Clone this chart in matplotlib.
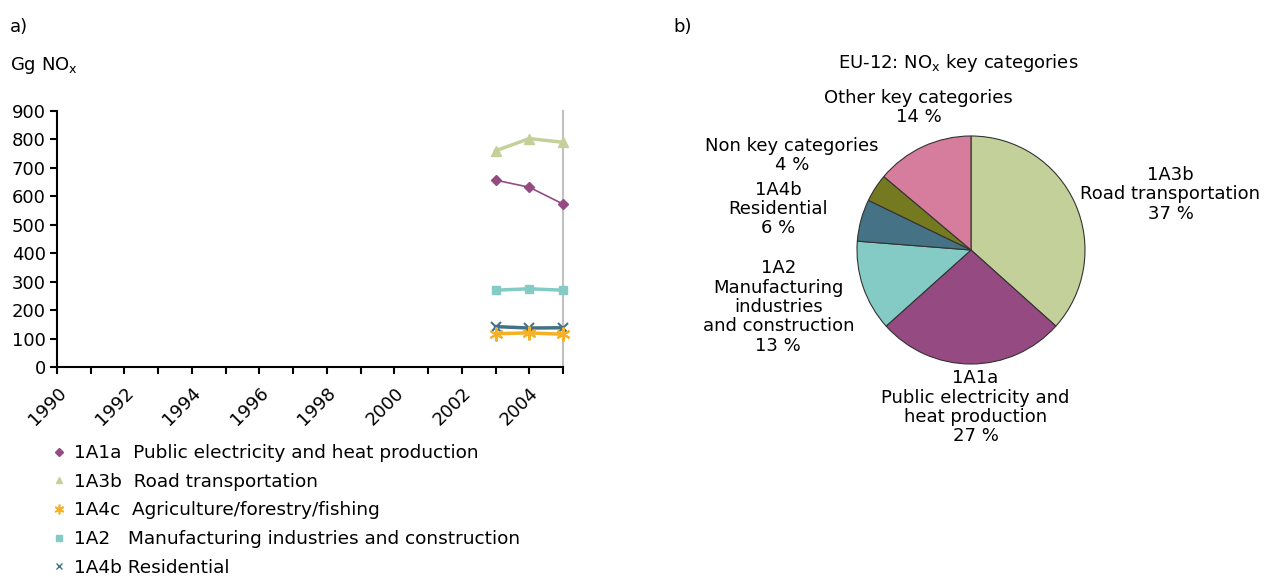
import matplotlib
matplotlib.use("Agg")
import matplotlib.pyplot as plt
from matplotlib.lines import Line2D

plt.rcParams['font.family'] = ['DejaVu Sans']
FS = 13

# ---- data: panel a) ----
years = [2003, 2004, 2005]
public_elec = [657, 632, 573]
road = [760, 803, 790]
agriculture = [117, 120, 115]
manufacturing = [270, 275, 270]
residential = [142, 137, 138]

# ---- data: panel b) ----
pie_labels = ["1A3b\nRoad transportation\n37 %",
              "1A1a\nPublic electricity and\nheat production\n27 %",
              "1A2\nManufacturing\nindustries\nand construction\n13 %",
              "1A4b\nResidential\n6 %",
              "Non key categories\n4 %",
              "Other key categories\n14 %"]
pie_values = [37, 27, 13, 6, 4, 14]

PURPLE = "#954B82"
GREEN = "#C4D09A"
YELLOW = "#F5B025"
TEAL = "#84CBC5"
BLUE = "#457385"
OLIVE = "#757A21"
PINK = "#D67C9C"

fig = plt.figure(figsize=(12.65, 5.77), dpi=100)

# ---------- panel a ----------
ax = fig.add_axes([57 / 1265, 1 - 367 / 577, 506 / 1265, 256 / 577])
ax.plot(years, public_elec, color=PURPLE, marker='D', markersize=5, lw=1.2, clip_on=False, zorder=4)
ax.plot(years, road, color=GREEN, marker='^', markersize=7, lw=2.5, clip_on=False, zorder=4)
ax.plot(years, manufacturing, color=TEAL, marker='s', markersize=6, lw=2.5, clip_on=False, zorder=4)
ax.plot(years, residential, color=BLUE, marker='x', markersize=7, mew=1.5, lw=2.5, clip_on=False, zorder=4)
ax.plot(years, agriculture, color=YELLOW, marker=(6, 2, 0), markersize=10, mew=1.5, lw=2.5, clip_on=False, zorder=5)

ax.set_xlim(1990, 2005)
ax.set_ylim(0, 900)
ax.set_yticks(range(0, 901, 100))
ax.set_xticks(range(1990, 2006))
ax.set_xticklabels([str(y) if (y % 2 == 0 and y < 2005) else "" for y in range(1990, 2006)],
                   rotation=45, ha='right', rotation_mode='anchor')
ax.tick_params(axis='both', labelsize=FS, direction='out', length=5, width=1.5, pad=3)
ax.tick_params(axis='x', pad=7)
ax.spines['top'].set_visible(False)
ax.spines['right'].set_color("#C0C0C0")
ax.spines['right'].set_linewidth(1.5)
ax.spines['left'].set_linewidth(1.5)
ax.spines['bottom'].set_linewidth(1.5)

fig.text(10 / 1265, 1 - 27 / 577, "a)", fontsize=FS, va='center', ha='left')
fig.text(10 / 1265, 1 - 65 / 577, r"Gg NO$_\mathregular{x}$", fontsize=FS, va='center', ha='left')

handles = [
    Line2D([], [], color=PURPLE, marker='D', markersize=4, ls='none'),
    Line2D([], [], color=GREEN, marker='^', markersize=5, ls='none'),
    Line2D([], [], color=YELLOW, marker=(6, 2, 0), markersize=7, mew=1.2, ls='none'),
    Line2D([], [], color=TEAL, marker='s', markersize=5, ls='none'),
    Line2D([], [], color=BLUE, marker='x', markersize=5, mew=1, ls='none'),
]
names = ["1A1a  Public electricity and heat production",
         "1A3b  Road transportation",
         "1A4c  Agriculture/forestry/fishing",
         "1A2   Manufacturing industries and construction",
         "1A4b Residential"]
fig.legend(handles, names, loc='upper left', bbox_to_anchor=(52 / 1265, 1 - 444 / 577),
           frameon=False, fontsize=13.3, handlelength=0.8, handletextpad=0.4,
           labelspacing=0.58, borderpad=0, borderaxespad=0)

# ---------- panel b ----------
fig.text(673 / 1265, 1 - 27 / 577, "b)", fontsize=FS, va='center', ha='left')
fig.text(958 / 1265, 1 - 63 / 577, r"EU-12: NO$_\mathregular{x}$ key categories", fontsize=FS,
         va='center', ha='center')

R = 114
pax = fig.add_axes([(971 - 2 * R) / 1265, 1 - (250 + 2 * R) / 577, 4 * R / 1265, 4 * R / 577])
wedges, _ = pax.pie(pie_values, colors=[GREEN, PURPLE, TEAL, BLUE, OLIVE, PINK],
                    startangle=90, counterclock=False, radius=1,
                    wedgeprops=dict(edgecolor="#333333", linewidth=0.8))
pax.set_xlim(-2, 2)
pax.set_ylim(-2, 2)
pax.axis('off')

label_xy = [(1.75, 0.49), (0.04, -1.38), (-1.69, -0.5), (-1.69, 0.36), (-1.57, 0.83), (-0.46, 1.25)]
for lab, (lx, ly) in zip(pie_labels, label_xy):
    pax.text(lx, ly, lab, ha='center', va='center', fontsize=FS, linespacing=1.1, clip_on=False)

fig.savefig("out.png", dpi=100)
